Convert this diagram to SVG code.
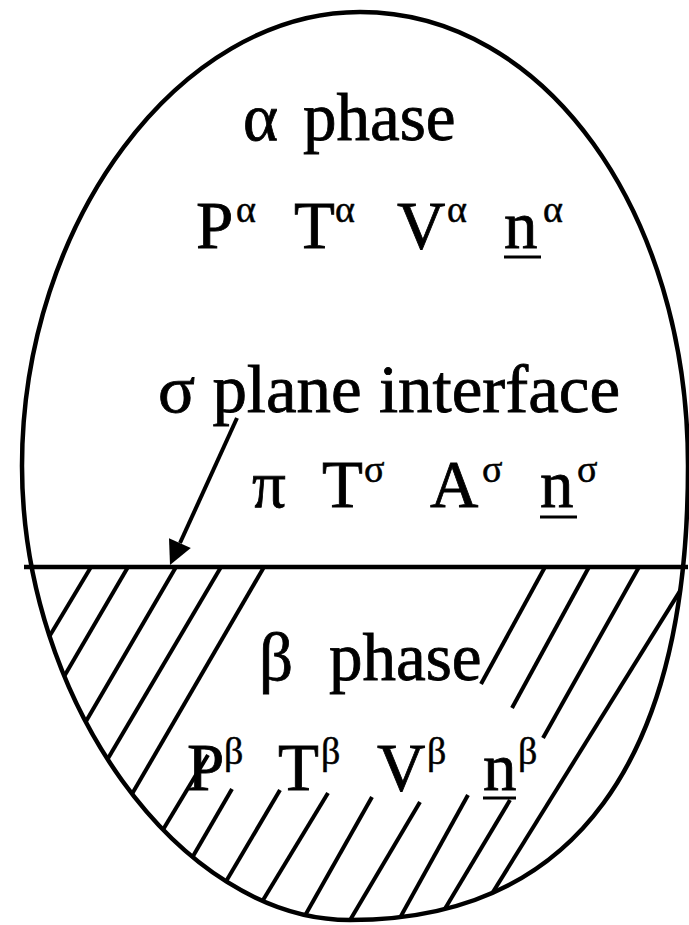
<svg xmlns="http://www.w3.org/2000/svg" width="689" height="925" viewBox="0 0 689 925">
<style>
.t{font-family:"Liberation Serif","Times New Roman",serif;font-size:67px;fill:#000;stroke:#000;stroke-width:0.8}
.s{font-size:38px;stroke-width:0.5}
.o{fill:none;stroke:#000;stroke-width:4.5}
.h{stroke:#000;stroke-width:4;stroke-linecap:butt}
.u{stroke:#000;stroke-width:3.2}
</style>
<defs>
<clipPath id="egg"><path d="M22 466 C22 700 180 920 350 920 C575 920 688 760 688 466 C688 212 545 12 360 12 C180 12 22 222 22 466 Z"/></clipPath>
</defs>
<rect width="689" height="925" fill="#fff"/>
<g id="hatch" clip-path="url(#egg)">
<line class="h" x1="91" y1="567" x2="40" y2="652"/>
<line class="h" x1="128" y1="567" x2="55" y2="692"/>
<line class="h" x1="176" y1="567" x2="78" y2="735"/>
<line class="h" x1="221" y1="567" x2="100" y2="772"/>
<line class="h" x1="264" y1="567" x2="125" y2="806"/>
<line class="h" x1="208" y1="755" x2="155" y2="843"/>
<line class="h" x1="232" y1="789" x2="185" y2="870"/>
<line class="h" x1="280" y1="790" x2="218" y2="895"/>
<line class="h" x1="328" y1="793" x2="257" y2="910"/>
<line class="h" x1="372" y1="797" x2="298" y2="928"/>
<line class="h" x1="545" y1="567" x2="481" y2="684"/>
<line class="h" x1="420" y1="802" x2="343" y2="932"/>
<line class="h" x1="589" y1="567" x2="512" y2="708"/>
<line class="h" x1="468" y1="795" x2="396" y2="925"/>
<line class="h" x1="639" y1="567" x2="543" y2="738"/>
<line class="h" x1="510" y1="800" x2="443" y2="912"/>
<line class="h" x1="698" y1="562" x2="488" y2="900"/>
</g>
<g id="outline">
<path class="o" d="M22 466 C22 700 180 920 350 920 C575 920 688 760 688 466 C688 212 545 12 360 12 C180 12 22 222 22 466 Z"/>
<line class="o" x1="24" y1="567" x2="688" y2="567"/>
</g>
<g id="alpha-phase">
<text class="t" x="243" y="140">α</text>
<text class="t" x="303" y="140">phase</text>
<text class="t" x="196" y="248">P</text><text class="t s" x="236" y="222">α</text>
<text class="t" x="294" y="248">T</text><text class="t s" x="335" y="222">α</text>
<text class="t" x="397" y="248">V</text><text class="t s" x="447" y="222">α</text>
<text class="t" x="504" y="248">n</text><text class="t s" x="543" y="222">α</text>
<line class="u" x1="504" y1="257" x2="541" y2="257"/>
</g>
<g id="interface">
<text class="t" x="158" y="412" textLength="462" lengthAdjust="spacingAndGlyphs">σ plane interface</text>
<text class="t" x="252" y="507">π</text>
<text class="t" x="322" y="507">T</text><text class="t s" x="364" y="482">σ</text>
<text class="t" x="430" y="507">A</text><text class="t s" x="482" y="482">σ</text>
<text class="t" x="540" y="507">n</text><text class="t s" x="577" y="482">σ</text>
<line class="u" x1="540" y1="517" x2="577" y2="517"/>
</g>
<g id="beta-phase">
<text class="t" x="259" y="680">β</text>
<text class="t" x="329" y="680">phase</text>
<text class="t" x="187" y="790">P</text><text class="t s" x="224" y="764">β</text>
<text class="t" x="278" y="790">T</text><text class="t s" x="321" y="764">β</text>
<text class="t" x="377" y="790">V</text><text class="t s" x="427" y="764">β</text>
<text class="t" x="483" y="790">n</text><text class="t s" x="518" y="764">β</text>
<line class="u" x1="483" y1="798" x2="516" y2="798"/>
</g>
<g id="connectors">
<line x1="237" y1="418" x2="180" y2="543" stroke="#000" stroke-width="4"/>
<polygon points="170,565 190.8,548 169,538.2" fill="#000"/>
</g>
</svg>
